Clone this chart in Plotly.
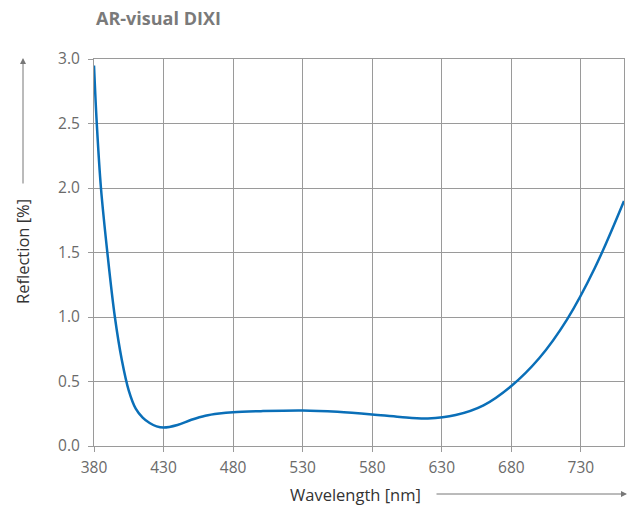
import plotly.graph_objects as go

wavelength = [380, 382, 385, 390, 395, 400, 405, 410, 415, 420, 425, 430, 440, 450, 460, 470, 480, 500,
              530, 555, 580, 600, 620, 640, 660, 680, 700, 720, 740, 761]
reflection = [2.95, 2.50, 2.00, 1.46, 1.00, 0.667, 0.43, 0.29, 0.22, 0.178, 0.152, 0.143, 0.163, 0.203, 0.235, 0.252, 0.262, 0.27,
              0.275, 0.265, 0.245, 0.225, 0.214, 0.24, 0.315, 0.465, 0.68, 0.98, 1.38, 1.90]
x_ticks = [380, 430, 480, 530, 580, 630, 680, 730]
y_ticks = [0.0, 0.5, 1.0, 1.5, 2.0, 2.5, 3.0]

GRID = "#9a9a9a"
TICK = "#6a6a6a"
FONT = "Open Sans"

fig = go.Figure()
fig.add_trace(go.Scatter(
    x=wavelength, y=reflection, mode="lines",
    line=dict(color="#0a6fb8", width=2.5, shape="spline", smoothing=1.0),
    hoverinfo="skip", showlegend=False,
))

fig.update_layout(
    width=628, height=505,
    margin=dict(l=94, r=4, t=59, b=59),
    paper_bgcolor="white", plot_bgcolor="white",
    font=dict(family=FONT, size=15, color=TICK),
    xaxis=dict(
        range=[380, 761], tickvals=x_ticks, ticktext=[str(v) for v in x_ticks],
        showgrid=True, gridcolor=GRID, gridwidth=1,
        showline=True, linecolor=GRID, linewidth=1, mirror=True,
        ticks="outside", ticklen=5, tickcolor=GRID, ticklabelstandoff=2,
        zeroline=False, tickfont=dict(size=15.5, color=TICK),
    ),
    yaxis=dict(
        range=[0, 3.0], tickvals=y_ticks, ticktext=[f"{v:.1f}" for v in y_ticks],
        showgrid=True, gridcolor=GRID, gridwidth=1,
        showline=True, linecolor=GRID, linewidth=1, mirror=True,
        ticks="outside", ticklen=5, tickcolor=GRID, ticklabelstandoff=5,
        zeroline=False, tickfont=dict(size=15.5, color=TICK),
    ),
)

# Title
fig.add_annotation(text="<b>AR-visual DIXI</b>", xref="paper", yref="paper",
                   x=(94 - 94) / 530, y=(446 - 18) / 387, xanchor="left", yanchor="middle",
                   showarrow=False, font=dict(family=FONT, size=18, color="#7a7a7a"))

# Y axis title + arrow
fig.add_annotation(text="Reflection [%]", xref="paper", yref="paper",
                   x=(23 - 94) / 530, y=(446 - 252) / 387, textangle=-90,
                   xanchor="center", yanchor="middle", showarrow=False,
                   font=dict(family=FONT, size=16.5, color="#333333"))
fig.add_annotation(text="", xref="paper", yref="paper",
                   x=(23 - 94) / 530, y=(446 - 58) / 387, ax=0, ay=127,
                   showarrow=True, arrowhead=2, arrowsize=1.2, arrowwidth=1, arrowcolor="#777777")

# X axis title + arrow
fig.add_annotation(text="Wavelength [nm]", xref="paper", yref="paper",
                   x=(355 - 94) / 530, y=(446 - 494) / 387,
                   xanchor="center", yanchor="middle", showarrow=False,
                   font=dict(family=FONT, size=16.5, color="#333333"))
fig.add_annotation(text="", xref="paper", yref="paper",
                   x=(627 - 94) / 530, y=(446 - 494) / 387, ax=-192, ay=0,
                   showarrow=True, arrowhead=2, arrowsize=1.2, arrowwidth=1, arrowcolor="#777777")

fig.write_html("out.html", post_script="document.body.style.margin='0';",
               config={"displayModeBar": False})
